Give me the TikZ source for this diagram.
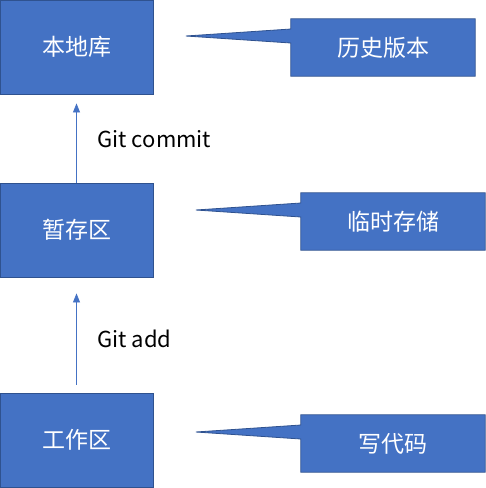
\documentclass[tikz,border=0pt]{standalone}
\usepackage{fontspec}
\setmainfont{Noto Sans CJK SC}
\usetikzlibrary{arrows.meta}
\usetikzlibrary{backgrounds}
\definecolor{boxblue}{HTML}{4472C4}
\definecolor{boxedge}{HTML}{2F528F}
\tikzset{
  area/.style={rectangle,fill=boxblue,draw=boxedge,line width=0.8pt,minimum width=153pt,minimum height=94pt,inner sep=0pt,text=white,font=\fontsize{23}{28}\selectfont},
  note/.style={rectangle,minimum width=184pt,minimum height=57pt,inner sep=0pt,text=white,font=\fontsize{23}{28}\selectfont},
  wedge/.style={fill=boxblue,draw=boxedge,line width=0.8pt,line join=miter},
  flow/.style={draw=boxblue,line width=0.8pt,-{Triangle[width=7pt,length=9pt]}},
  steplabel/.style={anchor=west,font=\fontsize{22}{26}\selectfont}
}
\begin{document}
\begin{tikzpicture}[x=1pt,y=-1pt]
\useasboundingbox (0,0) rectangle (486,488);
\node[area] (repo) at (76.5,47) {本地库};
\node[area] (stage) at (76.5,230) {暂存区};
\node[area] (work) at (76.5,440) {工作区};
\node[note] (hist) at (383,47.5) {历史版本};
\node[note] (temp) at (393,221.5) {临时存储};
\node[note] (code) at (393,443.5) {写代码};
\begin{scope}[on background layer]
\foreach \n in {hist,temp,code}
  \draw[wedge] (\n.north west) -- (\n.north east) -- (\n.south east) -- (\n.south west) -- ([yshift=4.5pt]\n.west) -- ([xshift=-105pt,yshift=11.5pt]\n.west) -- ([yshift=18.5pt]\n.west) -- cycle;
\end{scope}
\draw[flow,shorten >=9pt] (stage) -- (repo);
\draw[flow,shorten <=8pt,shorten >=16pt] (work) -- (stage);
\node[steplabel] (commitlbl) at (94,139) {Git commit};
\node[steplabel] (addlbl) at (94,339) {Git add};
\end{tikzpicture}
\end{document}
